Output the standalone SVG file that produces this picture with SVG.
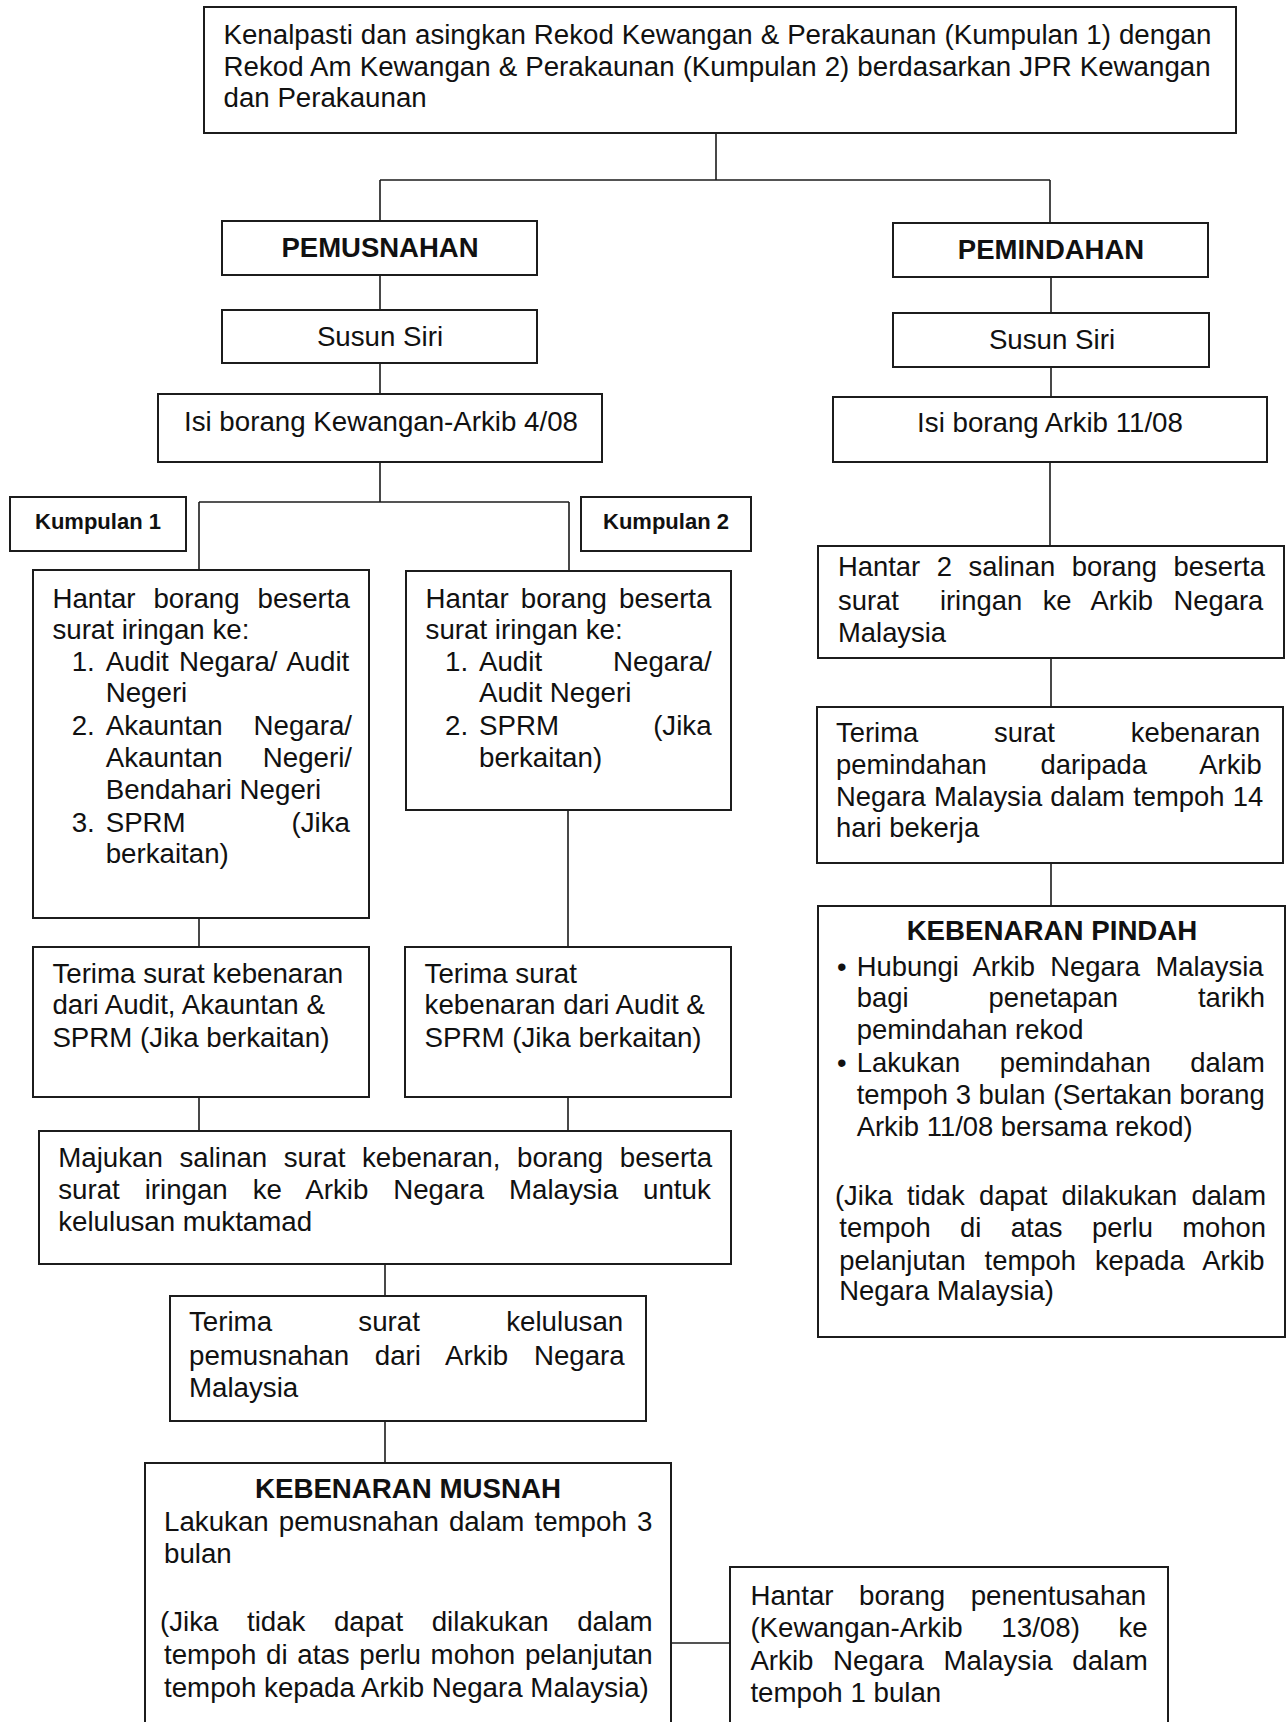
<svg xmlns="http://www.w3.org/2000/svg" width="1287" height="1722" viewBox="0 0 1287 1722">
<style>
.box{fill:#fff;stroke:#1c1c1c;stroke-width:2}
.ln{stroke:#1c1c1c;stroke-width:1.6;fill:none}
text{font-family:"Liberation Sans",Arial,sans-serif;font-size:27.7px;fill:#111}
.r{font-size:27.4px}
.b{font-weight:bold}
.k{font-size:22px;font-weight:bold}
.m{text-anchor:middle}
.e{text-anchor:end}
</style>
<rect width="1287" height="1722" fill="#fff"/>
<g id="connectors">
<path class="ln" d="M716,133V180M380,180H1050M380,180V221M1050,180V223"/>
<path class="ln" d="M380,275V310M380,363V394M380,462V502M199,502H569M199,502V570M569,502V571"/>
<path class="ln" d="M1051,277V313M1051,367V397M1050,462V546M1051,658V707M1051,863V906"/>
<path class="ln" d="M199,918V947M568,810V947M199,1097V1131M568,1097V1131M385,1264V1296M385,1421V1463M671,1643H730"/>
</g>
<g id="n-top">
<rect class="box" x="204" y="7" width="1032" height="126"/>
<text x="223.5" y="44" style="word-spacing:0.3px">Kenalpasti dan asingkan Rekod Kewangan &amp; Perakaunan (Kumpulan 1) dengan</text>
<text x="223.5" y="75.5" style="word-spacing:0.4px">Rekod Am Kewangan &amp; Perakaunan (Kumpulan 2) berdasarkan JPR Kewangan</text>
<text x="223.5" y="106.5">dan Perakaunan</text>
</g>
<g id="n-pemusnahan">
<rect class="box" x="222" y="221" width="315" height="54"/>
<text class="b m" x="380" y="257" style="font-size:27.5px">PEMUSNAHAN</text>
</g>
<g id="n-pemindahan">
<rect class="box" x="893" y="223" width="315" height="54"/>
<text class="b m" x="1051" y="259" style="font-size:27.5px">PEMINDAHAN</text>
</g>
<g id="n-susun-l">
<rect class="box" x="222" y="310" width="315" height="53"/>
<text class="m" x="380" y="346">Susun Siri</text>
</g>
<g id="n-susun-r">
<rect class="box" x="893" y="313" width="316" height="54"/>
<text class="m" x="1052" y="349">Susun Siri</text>
</g>
<g id="n-isi-l">
<rect class="box" x="158" y="394" width="444" height="68"/>
<text class="m" x="381" y="431">Isi borang Kewangan-Arkib 4/08</text>
</g>
<g id="n-isi-r">
<rect class="box" x="833" y="397" width="434" height="65"/>
<text class="m" x="1050" y="432">Isi borang Arkib 11/08</text>
</g>
<g id="n-kumpulan1">
<rect class="box" x="10" y="497" width="176" height="54"/>
<text class="k m" x="98" y="529">Kumpulan 1</text>
</g>
<g id="n-kumpulan2">
<rect class="box" x="581" y="497" width="170" height="54"/>
<text class="k m" x="666" y="529">Kumpulan 2</text>
</g>
<g id="n-hantar-k1">
<rect class="box" x="33" y="570" width="336" height="348"/>
<text x="52.4" y="608" style="word-spacing:10.2px">Hantar borang beserta</text>
<text x="52.4" y="639">surat iringan ke:</text>
<text x="71.7" y="671">1.</text>
<text x="105.7" y="671" style="word-spacing:2.5px">Audit Negara/ Audit</text>
<text x="105.7" y="702">Negeri</text>
<text x="71.7" y="735">2.</text>
<text x="105.7" y="735">Akauntan</text>
<text class="e" x="352" y="735">Negara/</text>
<text x="105.7" y="767">Akauntan</text>
<text class="e" x="352" y="767">Negeri/</text>
<text x="105.7" y="799">Bendahari Negeri</text>
<text x="71.7" y="832">3.</text>
<text x="105.7" y="832">SPRM</text>
<text class="e" x="350" y="832">(Jika</text>
<text x="105.7" y="863">berkaitan)</text>
</g>
<g id="n-hantar-k2">
<rect class="box" x="406" y="571" width="325" height="239"/>
<text x="425.6" y="608" style="word-spacing:4.4px">Hantar borang beserta</text>
<text x="425.6" y="639">surat iringan ke:</text>
<text x="445" y="671">1.</text>
<text x="479" y="671">Audit</text>
<text class="e" x="711.6" y="671">Negara/</text>
<text x="479" y="702">Audit Negeri</text>
<text x="445" y="735">2.</text>
<text x="479" y="735">SPRM</text>
<text class="e" x="711.6" y="735">(Jika</text>
<text x="479" y="767">berkaitan)</text>
</g>
<g id="n-terima-k1">
<rect class="box" x="33" y="947" width="336" height="150"/>
<text x="52.4" y="983">Terima surat kebenaran</text>
<text x="52.4" y="1014">dari Audit, Akauntan &amp;</text>
<text x="52.4" y="1047">SPRM (Jika berkaitan)</text>
</g>
<g id="n-terima-k2">
<rect class="box" x="405" y="947" width="326" height="150"/>
<text x="424.6" y="983">Terima surat</text>
<text x="424.6" y="1014">kebenaran dari Audit &amp;</text>
<text x="424.6" y="1047">SPRM (Jika berkaitan)</text>
</g>
<g id="n-majukan">
<rect class="box" x="39" y="1131" width="692" height="133"/>
<text x="58.2" y="1167" style="word-spacing:8.9px">Majukan salinan surat kebenaran, borang beserta</text>
<text x="58.2" y="1199" style="word-spacing:17.2px">surat iringan ke Arkib Negara Malaysia untuk</text>
<text x="58.2" y="1231">kelulusan muktamad</text>
</g>
<g id="n-terima-kelulusan">
<rect class="box" x="170" y="1296" width="476" height="125"/>
<text x="189" y="1331" style="word-spacing:78.6px">Terima surat kelulusan</text>
<text x="189" y="1365" style="word-spacing:18px">pemusnahan dari Arkib Negara</text>
<text x="189" y="1397">Malaysia</text>
</g>
<g id="n-kebenaran-musnah">
<rect class="box" x="145" y="1463" width="526" height="300"/>
<text class="b m" x="408" y="1498">KEBENARAN MUSNAH</text>
<text x="164" y="1531" style="word-spacing:2.4px">Lakukan pemusnahan dalam tempoh 3</text>
<text x="164" y="1563">bulan</text>
<text x="160" y="1631" style="word-spacing:20.8px">(Jika tidak dapat dilakukan dalam</text>
<text x="164" y="1664" style="word-spacing:2px">tempoh di atas perlu mohon pelanjutan</text>
<text x="164" y="1697">tempoh kepada Arkib Negara Malaysia)</text>
</g>
<g id="n-penentusahan">
<rect class="box" x="730" y="1567" width="438" height="200"/>
<text x="750.4" y="1605" style="word-spacing:17.8px">Hantar borang penentusahan</text>
<text x="750.4" y="1637" style="word-spacing:30.9px">(Kewangan-Arkib 13/08) ke</text>
<text x="750.4" y="1670" style="word-spacing:11.9px">Arkib Negara Malaysia dalam</text>
<text x="750.4" y="1702">tempoh 1 bulan</text>
</g>
<g id="n-hantar-salinan">
<rect class="box" x="818" y="546" width="466" height="112"/>
<text class="r" x="838" y="576" style="word-spacing:8.9px">Hantar 2 salinan borang beserta</text>
<text class="r" x="838" y="610" xml:space="preserve" style="word-spacing:12.9px">surat  iringan ke Arkib Negara</text>
<text class="r" x="838" y="642">Malaysia</text>
</g>
<g id="n-terima-pemindahan">
<rect class="box" x="817" y="707" width="466" height="156"/>
<text class="r" x="836" y="742" style="word-spacing:68.2px">Terima surat kebenaran</text>
<text class="r" x="836" y="774" style="word-spacing:46.1px">pemindahan daripada Arkib</text>
<text class="r" x="836" y="806" style="word-spacing:0.6px">Negara Malaysia dalam tempoh 14</text>
<text class="r" x="836" y="837">hari bekerja</text>
</g>
<g id="n-kebenaran-pindah">
<rect class="box" x="818" y="906" width="467" height="431"/>
<text class="b m" x="1052" y="940">KEBENARAN PINDAH</text>
<text class="r" x="837" y="976">•</text>
<text class="r" x="856.7" y="976" style="word-spacing:7.7px">Hubungi Arkib Negara Malaysia</text>
<text class="r" x="856.7" y="1007" style="word-spacing:72.4px">bagi penetapan tarikh</text>
<text class="r" x="856.7" y="1039">pemindahan rekod</text>
<text class="r" x="837" y="1072">•</text>
<text class="r" x="856.7" y="1072" style="word-spacing:32px">Lakukan pemindahan dalam</text>
<text class="r" x="856.7" y="1104">tempoh 3 bulan (Sertakan borang</text>
<text class="r" x="856.7" y="1136">Arkib 11/08 bersama rekod)</text>
<text class="r" x="835" y="1205" style="word-spacing:6.5px">(Jika tidak dapat dilakukan dalam</text>
<text class="r" x="839.3" y="1237" style="word-spacing:21.8px">tempoh di atas perlu mohon</text>
<text class="r" x="839.3" y="1270" style="word-spacing:11.3px">pelanjutan tempoh kepada Arkib</text>
<text class="r" x="839.3" y="1300">Negara Malaysia)</text>
</g>
</svg>
